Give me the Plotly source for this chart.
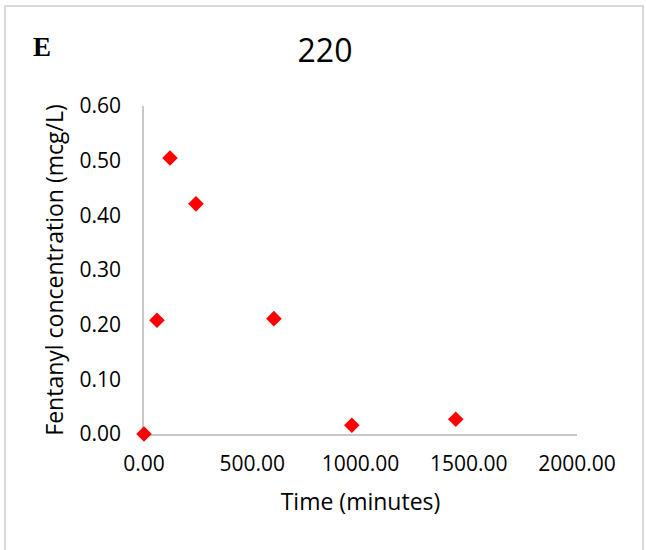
import plotly.graph_objects as go

time_min = [0, 60, 120, 240, 600, 960, 1440]
conc = [0.0, 0.208, 0.505, 0.421, 0.211, 0.016, 0.027]
x_ticks = [0, 500, 1000, 1500, 2000]
x_tick_text = ["0.00", "500.00", "1000.00", "1500.00", "2000.00"]
y_ticks = [0, 0.1, 0.2, 0.3, 0.4, 0.5, 0.6]
y_tick_text = ["0.00", "0.10", "0.20", "0.30", "0.40", "0.50", "0.60"]

W, H = 646, 550
L, R, T, B = 144, 69, 106, 116
pw, ph = W - L - R, H - T - B

def px2x(px):
    return (px - L) / pw

def py2y(py):
    return (H - B - py) / ph

font = "Open Sans, Lato, Arial, sans-serif"

fig = go.Figure()
fig.add_trace(go.Scatter(
    x=time_min, y=conc, mode="markers",
    marker=dict(symbol="diamond", size=12, color="#ff0000", line=dict(width=0)),
    cliponaxis=False, showlegend=False,
))

fig.update_layout(
    width=W, height=H,
    margin=dict(l=L, r=R, t=T, b=B),
    paper_bgcolor="white", plot_bgcolor="white",
    font=dict(family=font, color="#000000", size=21),
    title=dict(text="220", x=325 / W, xanchor="center", y=1 - 51 / H, yanchor="middle",
               font=dict(size=32, family=font, color="#000000")),
    xaxis=dict(
        range=[0, 2000], tickvals=x_ticks, ticktext=x_tick_text,
        showgrid=False, zeroline=False, showline=True, linecolor="#c8c8c8", linewidth=1.5,
        layer="below traces",
        ticks="", ticklabelstandoff=10, tickfont=dict(size=21),
        title=dict(text="Time (minutes)", font=dict(size=23), standoff=18),
    ),
    yaxis=dict(
        range=[0, 0.6], tickvals=y_ticks, ticktext=y_tick_text,
        showgrid=False, zeroline=False, showline=True, linecolor="#c8c8c8", linewidth=1.5,
        layer="below traces",
        ticks="", ticklabelstandoff=17, tickfont=dict(size=21),
        title=dict(text="Fentanyl concentration (mcg/L)", font=dict(size=23), standoff=9),
    ),
    shapes=[dict(type="rect", xref="paper", yref="paper",
                 x0=px2x(5), x1=px2x(643), y0=py2y(600), y1=py2y(6),
                 line=dict(color="#d9d9d9", width=2), fillcolor="rgba(0,0,0,0)", layer="below")],
    annotations=[dict(text="<b>E</b>", xref="paper", yref="paper", x=px2x(41.5), y=py2y(47.5),
                      xanchor="center", yanchor="middle", showarrow=False,
                      font=dict(family="Liberation Serif, Times New Roman, serif", size=27, color="#000000"))],
)

fig.write_html("out.html")
